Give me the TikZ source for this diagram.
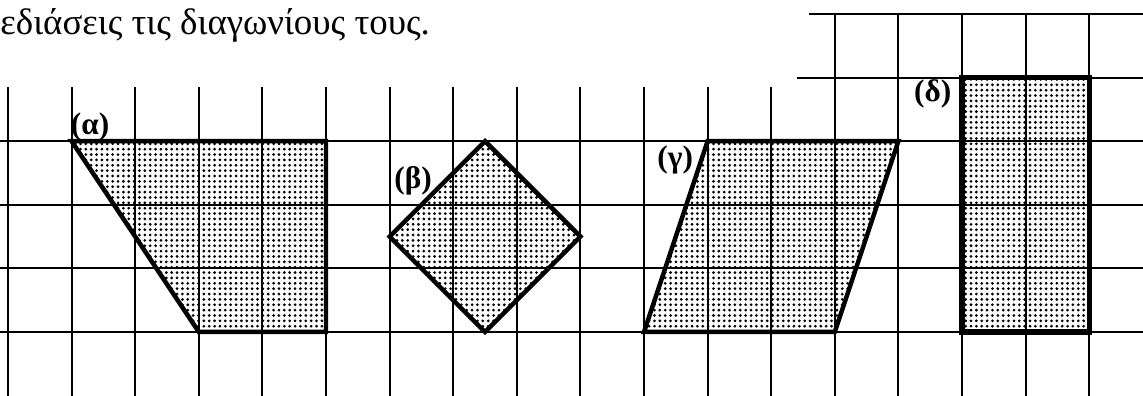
\documentclass[tikz,border=0pt]{standalone}
\usepackage{fontspec}
\setmainfont{Liberation Serif}
\usetikzlibrary{patterns.meta}

\begin{document}
\begin{tikzpicture}[gridline/.style={line width=0.9pt}, shade/.style={pattern={Dots[distance=2.4pt,radius=0.68pt]}}, outline/.style={line width=2pt, line join=miter}, tag/.style={inner sep=0pt, font=\fontsize{14}{14}\selectfont\bfseries}]
\useasboundingbox (-0.126,-1.006) rectangle (17.846,5.22);

\node[anchor=base west, inner sep=0pt, font=\fontsize{16.5}{16.5}\selectfont] (title) at (-0.126,4.67) {εδιάσεις τις διαγωνίους τους.};

\fill[shade] (1,3) -- (5,3) -- (5,0) -- (3,0) -- cycle;
\fill[shade] (7.5,3) -- (9,1.5) -- (7.5,0) -- (6,1.5) -- cycle;
\fill[shade] (11,3) -- (14,3) -- (13,0) -- (10,0) -- cycle;
\fill[shade] (15,0) rectangle (17,4);

\foreach \y in {0,...,3} \draw[gridline] (-0.126,\y) -- (17.846,\y);
\draw[gridline] (12.4,4) -- (17.846,4) (12.6,5) -- (17.846,5);
\foreach \x in {0,...,12} \draw[gridline] (\x,-1.006) -- (\x,3.85);
\foreach \x in {13,...,17} \draw[gridline] (\x,-1.006) -- (\x,5);

\draw[outline] (1,3) -- (5,3) -- (5,0) -- (3,0) -- cycle;
\draw[outline] (7.5,3) -- (9,1.5) -- (7.5,0) -- (6,1.5) -- cycle;
\draw[outline] (11,3) -- (14,3) -- (13,0) -- (10,0) -- cycle;
\draw[outline, line width=2.3pt] (15,0) rectangle (17,4);

\node[tag] (alpha) at (1.29,3.22) {(α)};
\node[tag] (beta) at (6.37,2.37) {(β)};
\node[tag] (gamma) at (10.49,2.70) {(γ)};
\node[tag] (delta) at (14.54,3.74) {(δ)};

\end{tikzpicture}
\end{document}
